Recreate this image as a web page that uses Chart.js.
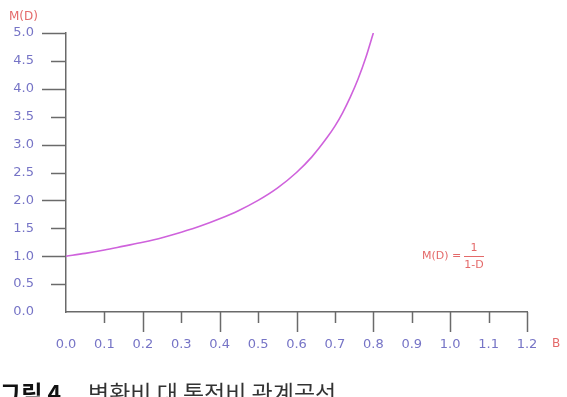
<!DOCTYPE html>
<html>
<head>
<meta charset="utf-8">
<style>
  html, body { margin: 0; padding: 0; background: #fff; }
  #chart { display: block; }
</style>
</head>
<body>
<canvas id="chart" width="567" height="397"></canvas>
<script src="https://cdn.jsdelivr.net/npm/chart.js@4"></script>
<script>
const dValues = [0, 0.05, 0.1, 0.15, 0.2, 0.25, 0.3, 0.35, 0.4, 0.45, 0.5, 0.55, 0.6, 0.64, 0.68, 0.7, 0.72, 0.74, 0.76, 0.78, 0.8];
const mValues = [1.00, 1.05, 1.11, 1.18, 1.25, 1.33, 1.43, 1.54, 1.67, 1.82, 2.00, 2.22, 2.50, 2.78, 3.13, 3.33, 3.57, 3.85, 4.17, 4.55, 5.00];
const yAxisTitle = 'M(D)';
const xAxisTitle = 'B';
const captionBold = '그림 4.';
const captionRest = '변환비 대 통전비 관계곡선';

const LABEL = '#7674c6';
const RED = '#e46a6a';
const AXIS = '#6a6a6a';

// tick marks, axis titles, formula and caption
const decor = {
    id: 'decor',
    afterDraw(chart) {
        const ctx = chart.ctx;
        const xs = chart.scales.x, ys = chart.scales.y;
        const a = chart.chartArea;
        ctx.save();
        ctx.strokeStyle = AXIS;
        ctx.lineWidth = 1.5;
        ys.ticks.forEach(t => {
            if (t.value === 0) return;
            const y = Math.round(ys.getPixelForValue(t.value)) + 0.5;
            const len = Math.abs(t.value % 1) < 1e-6 ? 24 : 15;
            ctx.beginPath(); ctx.moveTo(a.left - len, y); ctx.lineTo(a.left, y); ctx.stroke();
        });
        xs.ticks.forEach((t, i) => {
            if (t.value === 0) return;
            const x = Math.round(xs.getPixelForValue(t.value)) + 0.5;
            const len = i % 2 === 0 ? 20 : 11;
            ctx.beginPath(); ctx.moveTo(x, a.bottom); ctx.lineTo(x, a.bottom + len); ctx.stroke();
        });

        ctx.fillStyle = RED;
        ctx.font = '12px "DejaVu Sans"';
        ctx.textBaseline = 'middle';
        ctx.textAlign = 'left';
        ctx.fillText(yAxisTitle, 9, 17);
        ctx.fillText(xAxisTitle, 552, 344);

        // formula
        ctx.font = '11px "DejaVu Sans"';
        ctx.fillText('M(D) =', 422, 256);
        ctx.textAlign = 'center';
        ctx.fillText('1', 474, 248);
        ctx.fillText('1-D', 474, 265);
        ctx.strokeStyle = RED;
        ctx.lineWidth = 1;
        ctx.beginPath(); ctx.moveTo(464, 256.5); ctx.lineTo(484, 256.5); ctx.stroke();

        // caption
        ctx.textAlign = 'left';
        ctx.textBaseline = 'alphabetic';
        ctx.fillStyle = '#111';
        ctx.font = 'bold 23px "Noto Sans CJK KR"';
        ctx.fillText(captionBold, 0, 402);
        ctx.fillStyle = '#333';
        ctx.font = '23px "Noto Sans CJK KR"';
        ctx.fillText(captionRest, 88, 402);
        ctx.restore();
    }
};

new Chart(document.getElementById('chart').getContext('2d'), {
    type: 'line',
    data: {
        datasets: [{
            data: dValues.map((d, i) => ({ x: d, y: mValues[i] })),
            borderColor: '#cf62dc',
            borderWidth: 1.6,
            pointRadius: 0,
            cubicInterpolationMode: 'monotone',
            fill: false
        }]
    },
    options: {
        responsive: false,
        animation: false,
        layout: { padding: { top: 33, right: 40, left: 0, bottom: 0 } },
        plugins: { legend: { display: false }, tooltip: { enabled: false } },
        scales: {
            x: {
                type: 'linear', min: 0, max: 1.2,
                afterFit: s => { s.height = 85; s.paddingLeft = 0; s.paddingRight = 0; },
                grid: { display: true, drawOnChartArea: false, drawTicks: false },
                border: { color: AXIS, width: 1.5 },
                ticks: {
                    stepSize: 0.1, padding: 25, color: LABEL, maxRotation: 0, autoSkip: false,
                    font: { family: 'DejaVu Sans', size: 13 },
                    callback: v => v.toFixed(1)
                }
            },
            y: {
                min: 0, max: 5,
                afterFit: s => { s.width = 66; s.paddingTop = 0; s.paddingBottom = 0; },
                grid: { display: true, drawOnChartArea: false, drawTicks: false },
                border: { color: AXIS, width: 1.5 },
                ticks: {
                    stepSize: 0.5, padding: 32, color: LABEL, autoSkip: false,
                    font: { family: 'DejaVu Sans', size: 13 },
                    callback: v => v.toFixed(1)
                }
            }
        }
    },
    plugins: [decor]
});
</script>
</body>
</html>
